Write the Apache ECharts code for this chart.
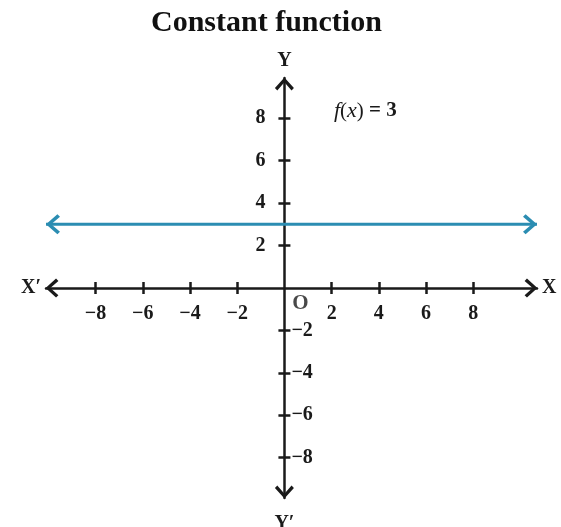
<!DOCTYPE html>
<html>
<head>
<meta charset="utf-8">
<script src="https://cdn.jsdelivr.net/npm/echarts@6/dist/echarts.min.js"></script>
<style>
  html, body { margin: 0; padding: 0; background: #fff; }
  #chart { width: 561px; height: 527px; }
</style>
</head>
<body>
<div id="chart"></div>
<script>
// f(x) = 3, drawn across the visible x range
const lineX = [-10.1, 10.7];
const constValue = 3;
const xTicks = [-8, -6, -4, -2, 2, 4, 6, 8];
const yTicks = [-8, -6, -4, -2, 2, 4, 6, 8];
const yLabelsLeft = [2, 4, 6, 8];
const yLabelsRight = [-2, -4, -6, -8];
const xRange = [-10.1, 10.7];
const yRange = [-9.9, 9.9];

const INK = "#1a1a1a";
const BLUE = "#2b8db2";
const FONT = "'Liberation Serif', 'Times New Roman', serif";

const W = 561, H = 527;
const grid = { left: 46, right: 24, top: 78, bottom: 29 };
const gridW = W - grid.left - grid.right;
const gridH = H - grid.top - grid.bottom;
// move the axes so they cross at the origin (offsets from grid edges)
const yAxisShift = -((0 - xRange[0]) / (xRange[1] - xRange[0])) * gridW;
const xAxisShift = -((0 - yRange[0]) / (yRange[1] - yRange[0])) * gridH;

// open chevron arrowheads (pointing up; axis rotates them)
const chevronUp = "path://M10,0 L20,11 L17.5,13.5 L10,5 L2.5,13.5 L0,11 Z";
const chevronRight = "path://M0,0 L11,10 L0,20 L-2.5,17.5 L6,10 L-2.5,2.5 Z";
const chevronLeft = "path://M11,0 L0,10 L11,20 L13.5,17.5 L5,10 L13.5,2.5 Z";

const minus = v => (v < 0 ? "\u2212" + Math.abs(v) : String(v));

const labelFont = { fontFamily: FONT, fontWeight: "bold", fontSize: 20, color: INK };
const tickStyle = { color: INK, width: 2.5 };

const chart = echarts.init(document.getElementById("chart"), null, { renderer: "canvas" });

chart.setOption({
  backgroundColor: "#fff",
  animation: false,
  title: {
    text: "Constant function",
    left: 146,
    top: 3,
    textStyle: { fontFamily: FONT, fontWeight: "bold", fontSize: 30, color: "#111" },
  },
  graphic: [{
    type: "text",
    left: 334,
    top: 100,
    style: {
      text: "{i|f}({i|x}) {b|= 3}",
      font: "21px " + FONT,
      fill: INK,
      rich: {
        i: { fontFamily: FONT, fontStyle: "italic", fontSize: 22, fill: INK },
        b: { fontFamily: FONT, fontWeight: "bold", fontSize: 21, fill: INK },
      },
    },
  }],
  grid: { ...grid, containLabel: false, outerBoundsMode: "none" },
  xAxis: [
    {
      type: "value", position: "bottom", offset: xAxisShift, min: xRange[0], max: xRange[1],
      axisLine: { show: true, onZero: false, lineStyle: { color: INK, width: 2.5 },
        symbol: [chevronUp, chevronUp], symbolSize: [19, 13], symbolOffset: [6, -6] },
      axisTick: { show: true, customValues: xTicks, length: 6, lineStyle: tickStyle },
      axisLabel: { ...labelFont, customValues: xTicks, margin: 16, formatter: minus },
      splitLine: { show: false },
      name: "X", nameLocation: "end", nameGap: 5,
      nameTextStyle: { ...labelFont, fontSize: 20, verticalAlign: "middle" },
    },
    {
      type: "value", position: "bottom", offset: xAxisShift, min: xRange[0], max: xRange[1],
      axisLine: { show: false, onZero: false },
      axisTick: { show: true, inside: true, customValues: xTicks, length: 6, lineStyle: tickStyle },
      axisLabel: { show: false },
      splitLine: { show: false },
      name: "X\u2032", nameLocation: "start", nameGap: 5,
      nameTextStyle: { ...labelFont, fontSize: 20, verticalAlign: "middle" },
    },
  ],
  yAxis: [
    {
      type: "value", position: "left", offset: yAxisShift, min: yRange[0], max: yRange[1],
      axisLine: { show: true, onZero: false, lineStyle: { color: INK, width: 2.5 },
        symbol: [chevronUp, chevronUp], symbolSize: [19, 13], symbolOffset: [6, -6] },
      axisTick: { show: true, customValues: yTicks, length: 6, lineStyle: tickStyle },
      axisLabel: { ...labelFont, customValues: yLabelsLeft, margin: 19, formatter: minus },
      splitLine: { show: false },
      name: "Y", nameLocation: "end", nameGap: 7,
      nameTextStyle: { ...labelFont, fontSize: 20, align: "center" },
    },
    {
      type: "value", position: "left", offset: yAxisShift, min: yRange[0], max: yRange[1],
      axisLine: { show: false, onZero: false },
      axisTick: { show: true, inside: true, customValues: yTicks, length: 6, lineStyle: tickStyle },
      axisLabel: { ...labelFont, inside: true, customValues: yLabelsRight, margin: 7, formatter: minus },
      splitLine: { show: false },
      name: "Y\u2032", nameLocation: "start", nameGap: 16,
      nameTextStyle: { ...labelFont, fontSize: 20, align: "center" },
    },
  ],
  series: [
    {
      type: "line",
      xAxisIndex: 0,
      yAxisIndex: 0,
      data: [
        { value: [lineX[0], constValue], symbol: chevronLeft, symbolSize: [14, 20], symbolOffset: [7, 0] },
        { value: [lineX[1], constValue], symbol: chevronRight, symbolSize: [14, 20], symbolOffset: [-7, 0] },
      ],
      showAllSymbol: true,
      lineStyle: { color: BLUE, width: 3 },
      itemStyle: { color: BLUE },
      silent: true,
    },
    {
      type: "scatter",
      xAxisIndex: 0,
      yAxisIndex: 0,
      data: [[0, 0]],
      symbolSize: 1,
      itemStyle: { color: "transparent" },
      label: {
        show: true,
        formatter: "O",
        position: "inside",
        offset: [16, 16],
        ...labelFont,
        fontSize: 21,
      },
      silent: true,
    },
  ],
});
</script>
</body>
</html>
